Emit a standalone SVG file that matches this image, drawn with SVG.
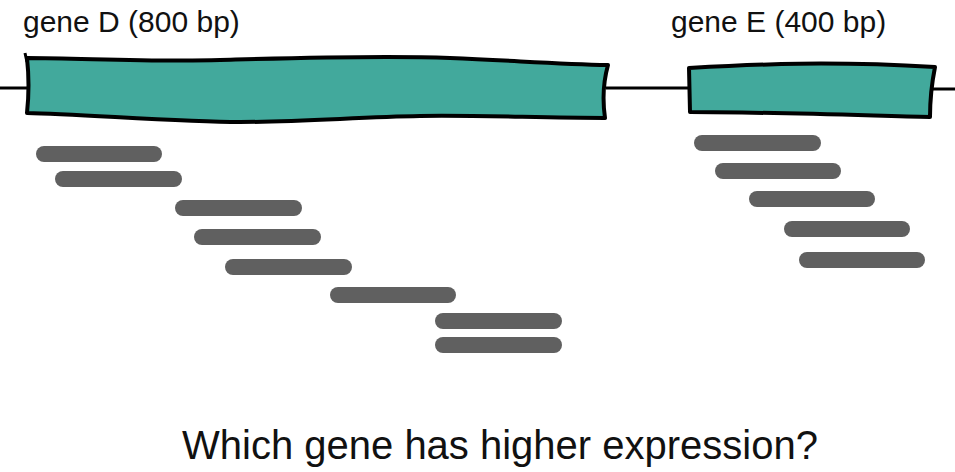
<svg xmlns="http://www.w3.org/2000/svg" width="955" height="472" viewBox="0 0 955 472">
<style>
.lbl{font-family:"Liberation Sans",Arial,Helvetica,sans-serif;font-size:30px;fill:#111}
.q{font-family:"Liberation Sans",Arial,Helvetica,sans-serif;font-size:40px;fill:#111}
.exon{fill:#42a99c;stroke:#000;stroke-width:4;stroke-linejoin:round}
.bb{stroke:#000;stroke-width:3;fill:none}
.read{stroke:#606060;stroke-width:16;stroke-linecap:round}
</style>
<rect width="955" height="472" fill="#fff"/>
<g id="connectors">
<line class="bb" x1="0" y1="88" x2="28" y2="88"/>
<line class="bb" x1="606" y1="88" x2="691" y2="88"/>
<line class="bb" x1="932" y1="89" x2="955" y2="89"/>
</g>
<g id="geneD">
<path class="exon" d="M27,58 C80,58 150,62 220,60 S380,55 450,58 S560,64 608,65 Q601,90 605,118 C540,118 480,115 420,116 S300,122 240,122 S80,114 27,113 Q30,85 27,58 Z"/>
<line x1="25" y1="53" x2="27" y2="62" stroke="#000" stroke-width="3"/>
<text class="lbl" x="23" y="32">gene D (800 bp)</text>
</g>
<g id="geneE">
<path class="exon" d="M689,68 C760,64 830,61 935,67 Q930,92 930,117 C850,115 760,112 690,112 Z"/>
<text class="lbl" x="671" y="32">gene E (400 bp)</text>
</g>
<g id="readsD">
<line class="read" x1="44" y1="154" x2="154" y2="154"/>
<line class="read" x1="63" y1="179" x2="174" y2="179"/>
<line class="read" x1="183" y1="208" x2="294" y2="208"/>
<line class="read" x1="202" y1="237" x2="313" y2="237"/>
<line class="read" x1="233" y1="267" x2="344" y2="267"/>
<line class="read" x1="338" y1="295" x2="448" y2="295"/>
<line class="read" x1="443" y1="321" x2="554" y2="321"/>
<line class="read" x1="443" y1="345" x2="554" y2="345"/>
</g>
<g id="readsE">
<line class="read" x1="702" y1="143" x2="813" y2="143"/>
<line class="read" x1="723" y1="171" x2="833" y2="171"/>
<line class="read" x1="757" y1="199" x2="867" y2="199"/>
<line class="read" x1="792" y1="229" x2="902" y2="229"/>
<line class="read" x1="807" y1="260" x2="917" y2="260"/>
</g>
<g id="question">
<text class="q" x="500" y="459" text-anchor="middle">Which gene has higher expression?</text>
</g>
</svg>
